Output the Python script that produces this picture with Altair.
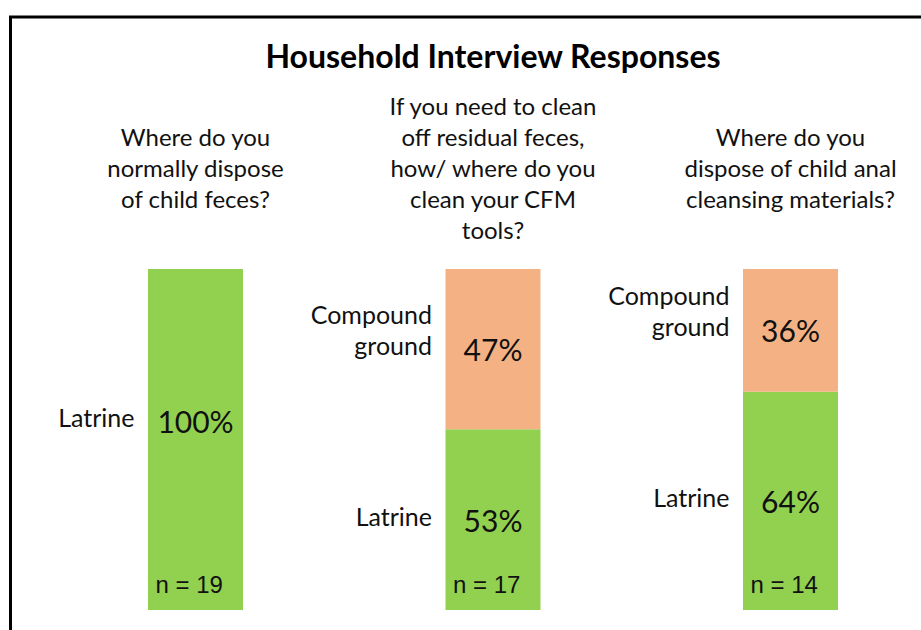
import altair as alt
import pandas as pd

# ---- data ----
questions = [
    "Where do you\nnormally dispose\nof child feces?",
    "If you need to clean\noff residual feces,\nhow/ where do you\nclean your CFM\ntools?",
    "Where do you\ndispose of child anal\ncleansing materials?",
]
n_values = [19, 17, 14]
responses = ["Latrine", "Compound\nground"]
latrine_pct = [100, 53, 64]
compound_pct = [0, 47, 36]
colors = ["#92D050", "#F4B183"]
title_text = "Household Interview Responses"

rows = []
for i in range(3):
    for r, vals, o in ((responses[0], latrine_pct, 0), (responses[1], compound_pct, 1)):
        if vals[i] > 0:
            rows.append({"q": i, "response": r, "pct": vals[i], "ord": o})
df = pd.DataFrame(rows)
qdf = pd.DataFrame({"q": [0, 1, 2], "question": questions,
                    "n": [f"n = {v}" for v in n_values]})

W, H = 921, 630
FONT = "Lato"
LH = 31  # line height of multi-line text

xs = alt.Scale(domain=[0, 2], range=[195.5, 790.5], padding=0)
ys = alt.Scale(domain=[0, 100], range=[610, 269], padding=0)

base = alt.Chart(df).transform_stack(
    stack="pct", groupby=["q"], as_=["y0", "y1"], sort=[alt.SortField("ord")]
).transform_calculate(
    pos="datum.pct == 100 ? (datum.y0 + datum.y1) / 2 + 5.5 : (datum.y0 + datum.y1) / 2",
    catpos="(datum.pct == 100 ? (datum.y0 + datum.y1) / 2 + 5.5 : (datum.y0 + datum.y1) / 2)"
           " + (length(split(datum.response, '\\n')) - 1) * 31 / 3.41",
    label="datum.pct + '%'",
)

bars = base.mark_bar(size=95).encode(
    x=alt.X("q:Q", scale=xs, axis=None),
    y=alt.Y("y0:Q", scale=ys, axis=None),
    y2="y1:Q",
    color=alt.Color("response:N", scale=alt.Scale(domain=responses, range=colors), legend=None),
)

pct_text = base.mark_text(
    font=FONT, fontSize=30, color="#111", baseline="middle", align="center", dy=3
).encode(x=alt.X("q:Q", scale=xs), y=alt.Y("pos:Q", scale=ys), text="label:N")

cat_text = base.mark_text(
    font=FONT, fontSize=25, color="#111", baseline="middle", align="right",
    dx=-61, dy=-2, lineBreak="\n", lineHeight=LH
).encode(x=alt.X("q:Q", scale=xs), y=alt.Y("catpos:Q", scale=ys), text="response:N")

n_text = alt.Chart(qdf).mark_text(
    font="Liberation Sans", fontSize=24, color="#111", baseline="bottom", align="left",
    dx=-40, dy=-12
).encode(x=alt.X("q:Q", scale=xs), y=alt.datum(0, scale=ys), text="n:N")

q_text = alt.Chart(qdf).transform_calculate(
    qy="169.5 - (length(split(datum.question, '\\n')) - 1) * 15.5"
).mark_text(
    font=FONT, fontSize=24, color="#111", baseline="middle", align="center",
    lineBreak="\n", lineHeight=LH
).encode(x=alt.X("q:Q", scale=xs), y=alt.Y("qy:Q", scale=None), text="question:N")

title = alt.Chart(qdf).transform_filter("datum.q == 0").mark_text(
    font=FONT, fontSize=32, fontWeight="bold", color="#000", baseline="middle", align="center"
).encode(x=alt.value(493), y=alt.value(58), text=alt.value(title_text))

frame_top = alt.Chart(qdf).transform_filter("datum.q == 0").mark_rule(
    color="#000", strokeWidth=3
).encode(x=alt.value(9), x2=alt.value(W), y=alt.value(17))
frame_left = alt.Chart(qdf).transform_filter("datum.q == 0").mark_rule(
    color="#000", strokeWidth=3
).encode(x=alt.value(10.5), y=alt.value(16), y2=alt.value(H))

chart = alt.layer(
    bars, pct_text, cat_text, n_text, q_text, title, frame_top, frame_left
).properties(
    width=W, height=H, padding=0, autosize=alt.AutoSizeParams(type="none"),
    background="white",
).configure_view(strokeWidth=0)

chart.save("out.html", embed_options={"renderer": "svg", "actions": False})
